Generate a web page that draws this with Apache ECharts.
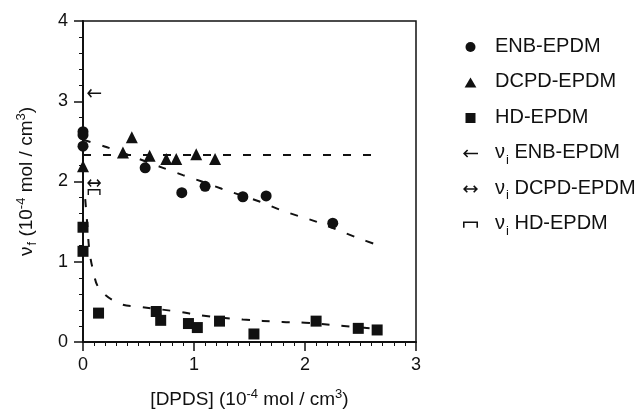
<!DOCTYPE html>
<html>
<head>
<meta charset="utf-8">
<script src="https://cdn.jsdelivr.net/npm/echarts@6/dist/echarts.min.js"></script>
<style>
  html, body { margin: 0; padding: 0; background: #fff; }
  #chart { width: 638px; height: 409px; }
</style>
</head>
<body>
<div id="chart"></div>
<script>
var enbPoints = [[0, 2.62], [0, 2.58], [0, 2.44], [0.56, 2.17], [0.89, 1.86], [1.1, 1.94], [1.44, 1.81], [1.65, 1.82], [2.25, 1.48]];
var dcpdPoints = [[0, 2.19], [0.36, 2.36], [0.44, 2.55], [0.6, 2.32], [0.75, 2.28], [0.84, 2.28], [1.02, 2.34], [1.19, 2.28]];
var hdPoints = [[0, 1.43], [0, 1.13], [0.14, 0.36], [0.66, 0.38], [0.7, 0.27], [0.95, 0.23], [1.03, 0.18], [1.23, 0.26], [1.54, 0.1], [2.1, 0.26], [2.48, 0.17], [2.65, 0.15]];

// initial crosslink density markers
var viEnb = [[0.1, 3.1]];
var viDcpd = [[0.1, 1.98]];
var viHd = [[0.1, 1.87]];

// dashed guide curves
var enbCurve = [[0, 2.52], [0.21, 2.43], [0.72, 2.17], [0.9, 2.08], [1.07, 2.0], [1.25, 1.91], [1.59, 1.75], [1.77, 1.65], [1.94, 1.57], [2.1, 1.5], [2.47, 1.3], [2.65, 1.21]];
var dcpdCurve = [[0, 2.33], [2.65, 2.33]];
var hdCurve = [[0.02, 1.78], [0.04, 1.44], [0.057, 1.15], [0.09, 0.9], [0.15, 0.66], [0.33, 0.48], [0.51, 0.44], [0.87, 0.375], [1.07, 0.33], [1.44, 0.28], [1.8, 0.25], [2.0, 0.24], [2.35, 0.2], [2.6, 0.17]];

var xTicks = [0, 1, 2, 3];
var yTicks = [0, 1, 2, 3, 4];
var legendNames = ['ENB-EPDM', 'DCPD-EPDM', 'HD-EPDM', 'vi ENB-EPDM', 'vi DCPD-EPDM', 'vi HD-EPDM'];

var FONT = 'Liberation Sans, Arial, sans-serif';
var INK = '#111';

var leftArrow = 'path://M0,7 L6.5,0.5 L8.3,2.3 L4.8,5.8 L24,5.8 L24,8.2 L4.8,8.2 L8.3,11.7 L6.5,13.5 Z';
var bothArrow = 'path://M0,7 L6,1 L7.8,2.8 L4.8,5.8 L19.2,5.8 L16.2,2.8 L18,1 L24,7 L18,13 L16.2,11.2 L19.2,8.2 L4.8,8.2 L7.8,11.2 L6,13 Z';
var bracket = 'path://M0,0 L24,0 L24,10 L21.5,10 L21.5,2.6 L2.5,2.6 L2.5,10 L0,10 Z';
var squareIcon = 'path://M0,0 L10,0 L10,10 L0,10 Z';
var triIcon = 'path://M5,0 L10,8.5 L0,8.5 Z';

var myChart = echarts.init(document.getElementById('chart'));

function dashed(data, smooth) {
    return {
        type: 'line', data: data, smooth: smooth, showSymbol: false, symbol: 'none',
        silent: true, z: 1,
        lineStyle: { color: INK, width: 2, type: [8, 12] }
    };
}

var richTxt = {
    t: { fontSize: 20, fontFamily: FONT, color: INK, verticalAlign: 'top', lineHeight: 22 },
    v: { fontSize: 20, fontFamily: FONT, color: INK, verticalAlign: 'top', lineHeight: 22 },
    s: { fontSize: 13, fontFamily: FONT, color: INK, lineHeight: 13, padding: [13, 0, 0, 1] }
};

var nameRich = {
    t: { fontSize: 19, fontFamily: FONT, color: INK, lineHeight: 24 },
    sup: { fontSize: 13, fontFamily: FONT, color: INK, verticalAlign: 'top', lineHeight: 11 },
    f: { fontSize: 13, fontFamily: FONT, color: INK, lineHeight: 13, padding: [11, 0, 0, 1] }
};

var option = {
    animation: false,
    backgroundColor: '#fff',
    grid: { left: 83, right: 222, top: 21, bottom: 67, containLabel: false, outerBoundsMode: 'none',
        show: true, borderColor: INK, borderWidth: 1.5 },
    legend: {
        orient: 'vertical', left: 458, top: 29,
        itemWidth: 15, itemHeight: 10, itemGap: 9.5,
        data: legendNames.map(function (n, i) {
            var icons = ['circle', triIcon, squareIcon, leftArrow, bothArrow, bracket];
            return { name: n, icon: icons[i] };
        }),
        formatter: function (name) {
            if (name.indexOf('vi ') === 0) {
                return '{v|ν}{s|i}{t| ' + name.slice(3) + '}';
            }
            return '{t|' + name + '}{s| }';
        },
        textStyle: { rich: richTxt, padding: [0, 0, 0, 12] }
    },
    xAxis: {
        type: 'value', min: 0, max: 3, interval: 1,
        name: '{t|[DPDS] (10}{sup|-4}{t| mol / cm}{sup|3}{t|)}',
        nameLocation: 'middle', nameGap: 46,
        nameTextStyle: { rich: nameRich },
        axisLine: { lineStyle: { color: INK, width: 2 } },
        axisTick: { inside: false, length: 9, lineStyle: { color: INK, width: 1.5 } },
        minorTick: { show: true, splitNumber: 10, length: 4, lineStyle: { color: INK, width: 1 } },
        splitLine: { show: false },
        axisLabel: { fontSize: 18, fontFamily: FONT, color: INK, margin: 14,
            formatter: function (v) { return xTicks.indexOf(v) >= 0 ? String(v) : ''; } }
    },
    yAxis: {
        type: 'value', min: 0, max: 4, interval: 1,
        name: '{t|ν}{f|f}{t| (10}{sup|-4}{t| mol / cm}{sup|3}{t|)}',
        nameLocation: 'middle', nameGap: 44, nameRotate: 90,
        nameTextStyle: { rich: nameRich },
        axisLine: { lineStyle: { color: INK, width: 2 } },
        axisTick: { inside: false, length: 9, lineStyle: { color: INK, width: 1.5 } },
        minorTick: { show: true, splitNumber: 5, length: 4, lineStyle: { color: INK, width: 1 } },
        splitLine: { show: false },
        axisLabel: { fontSize: 18, fontFamily: FONT, color: INK, margin: 15,
            formatter: function (v) { return yTicks.indexOf(v) >= 0 ? String(v) : ''; } }
    },
    series: [
        dashed(enbCurve, 0.3),
        dashed(dcpdCurve, false),
        dashed(hdCurve, 0.4),
        { name: 'ENB-EPDM', type: 'scatter', data: enbPoints, symbol: 'circle', symbolSize: 11, z: 3,
          itemStyle: { color: INK, opacity: 1 } },
        { name: 'DCPD-EPDM', type: 'scatter', data: dcpdPoints, symbol: 'triangle', symbolSize: 12, z: 3,
          itemStyle: { color: INK, opacity: 1 } },
        { name: 'HD-EPDM', type: 'scatter', data: hdPoints, symbol: 'rect', symbolSize: 11, z: 3,
          itemStyle: { color: INK, opacity: 1 } },
        { name: 'vi ENB-EPDM', type: 'scatter', data: viEnb, symbol: leftArrow, symbolSize: [14, 9], z: 3,
          itemStyle: { color: INK, opacity: 1 } },
        { name: 'vi DCPD-EPDM', type: 'scatter', data: viDcpd, symbol: bothArrow, symbolSize: [14, 8], z: 3,
          itemStyle: { color: INK, opacity: 1 } },
        { name: 'vi HD-EPDM', type: 'scatter', data: viHd, symbol: bracket, symbolSize: [13, 6], z: 3,
          itemStyle: { color: INK, opacity: 1 } }
    ]
};

myChart.setOption(option);
</script>
</body>
</html>
